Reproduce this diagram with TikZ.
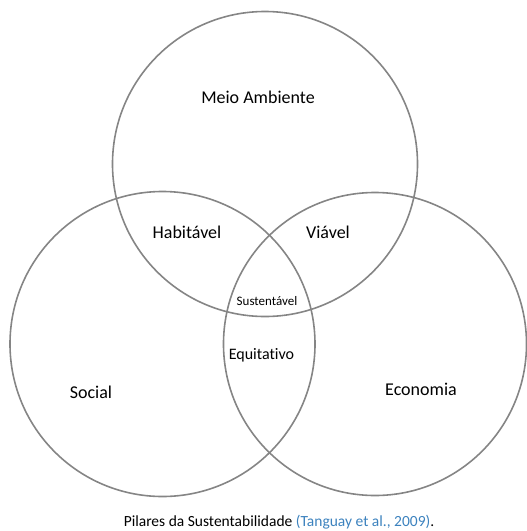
\documentclass[tikz,border=0pt]{standalone}
\usepackage{fontspec}
\setmainfont{Carlito}[Ligatures={NoCommon}]
\definecolor{ring}{HTML}{858585}
\definecolor{cite}{HTML}{3C82BE}
\begin{document}
\begin{tikzpicture}[x=1pt,y=-1pt,
  ring/.style={draw=ring,line width=1.6pt},
  lbl/.style={font=\fontsize{18}{20}\selectfont,inner sep=0pt},
  small/.style={font=\fontsize{13}{15}\selectfont,inner sep=1pt}]
\useasboundingbox (0,0) rectangle (527,531);
\clip (0,0) rectangle (527,531);
\node[ring,circle,minimum size=305pt,inner sep=0pt] (env) at (265,164) {};
\node[ring,circle,minimum size=305pt,inner sep=0pt] (soc) at (162.5,344) {};
\node[ring,circle,minimum size=303pt,inner sep=0pt] (eco) at (375,344) {};
\node[lbl] (meio) at (258,97.5) {Meio Ambiente};
\node[lbl] (hab) at (187,232) {Habitável};
\node[lbl] (via) at (328,232) {Viável};
\node[small,fill=white] (sus) at (267,301) {Sustentável};
\node[lbl,font=\fontsize{16}{18}\selectfont] (equ) at (261.5,355.5) {Equitativo};
\node[lbl] (social) at (91,392.5) {Social};
\node[lbl] (econ) at (421,389) {Economia};
\node[font=\fontsize{15.5}{17}\selectfont,inner sep=0pt,anchor=base] (cap) at (279,526.5) {Pilares da Sustentabilidade \textcolor{cite}{(Tanguay et al., 2009)}.};
\end{tikzpicture}
\end{document}
